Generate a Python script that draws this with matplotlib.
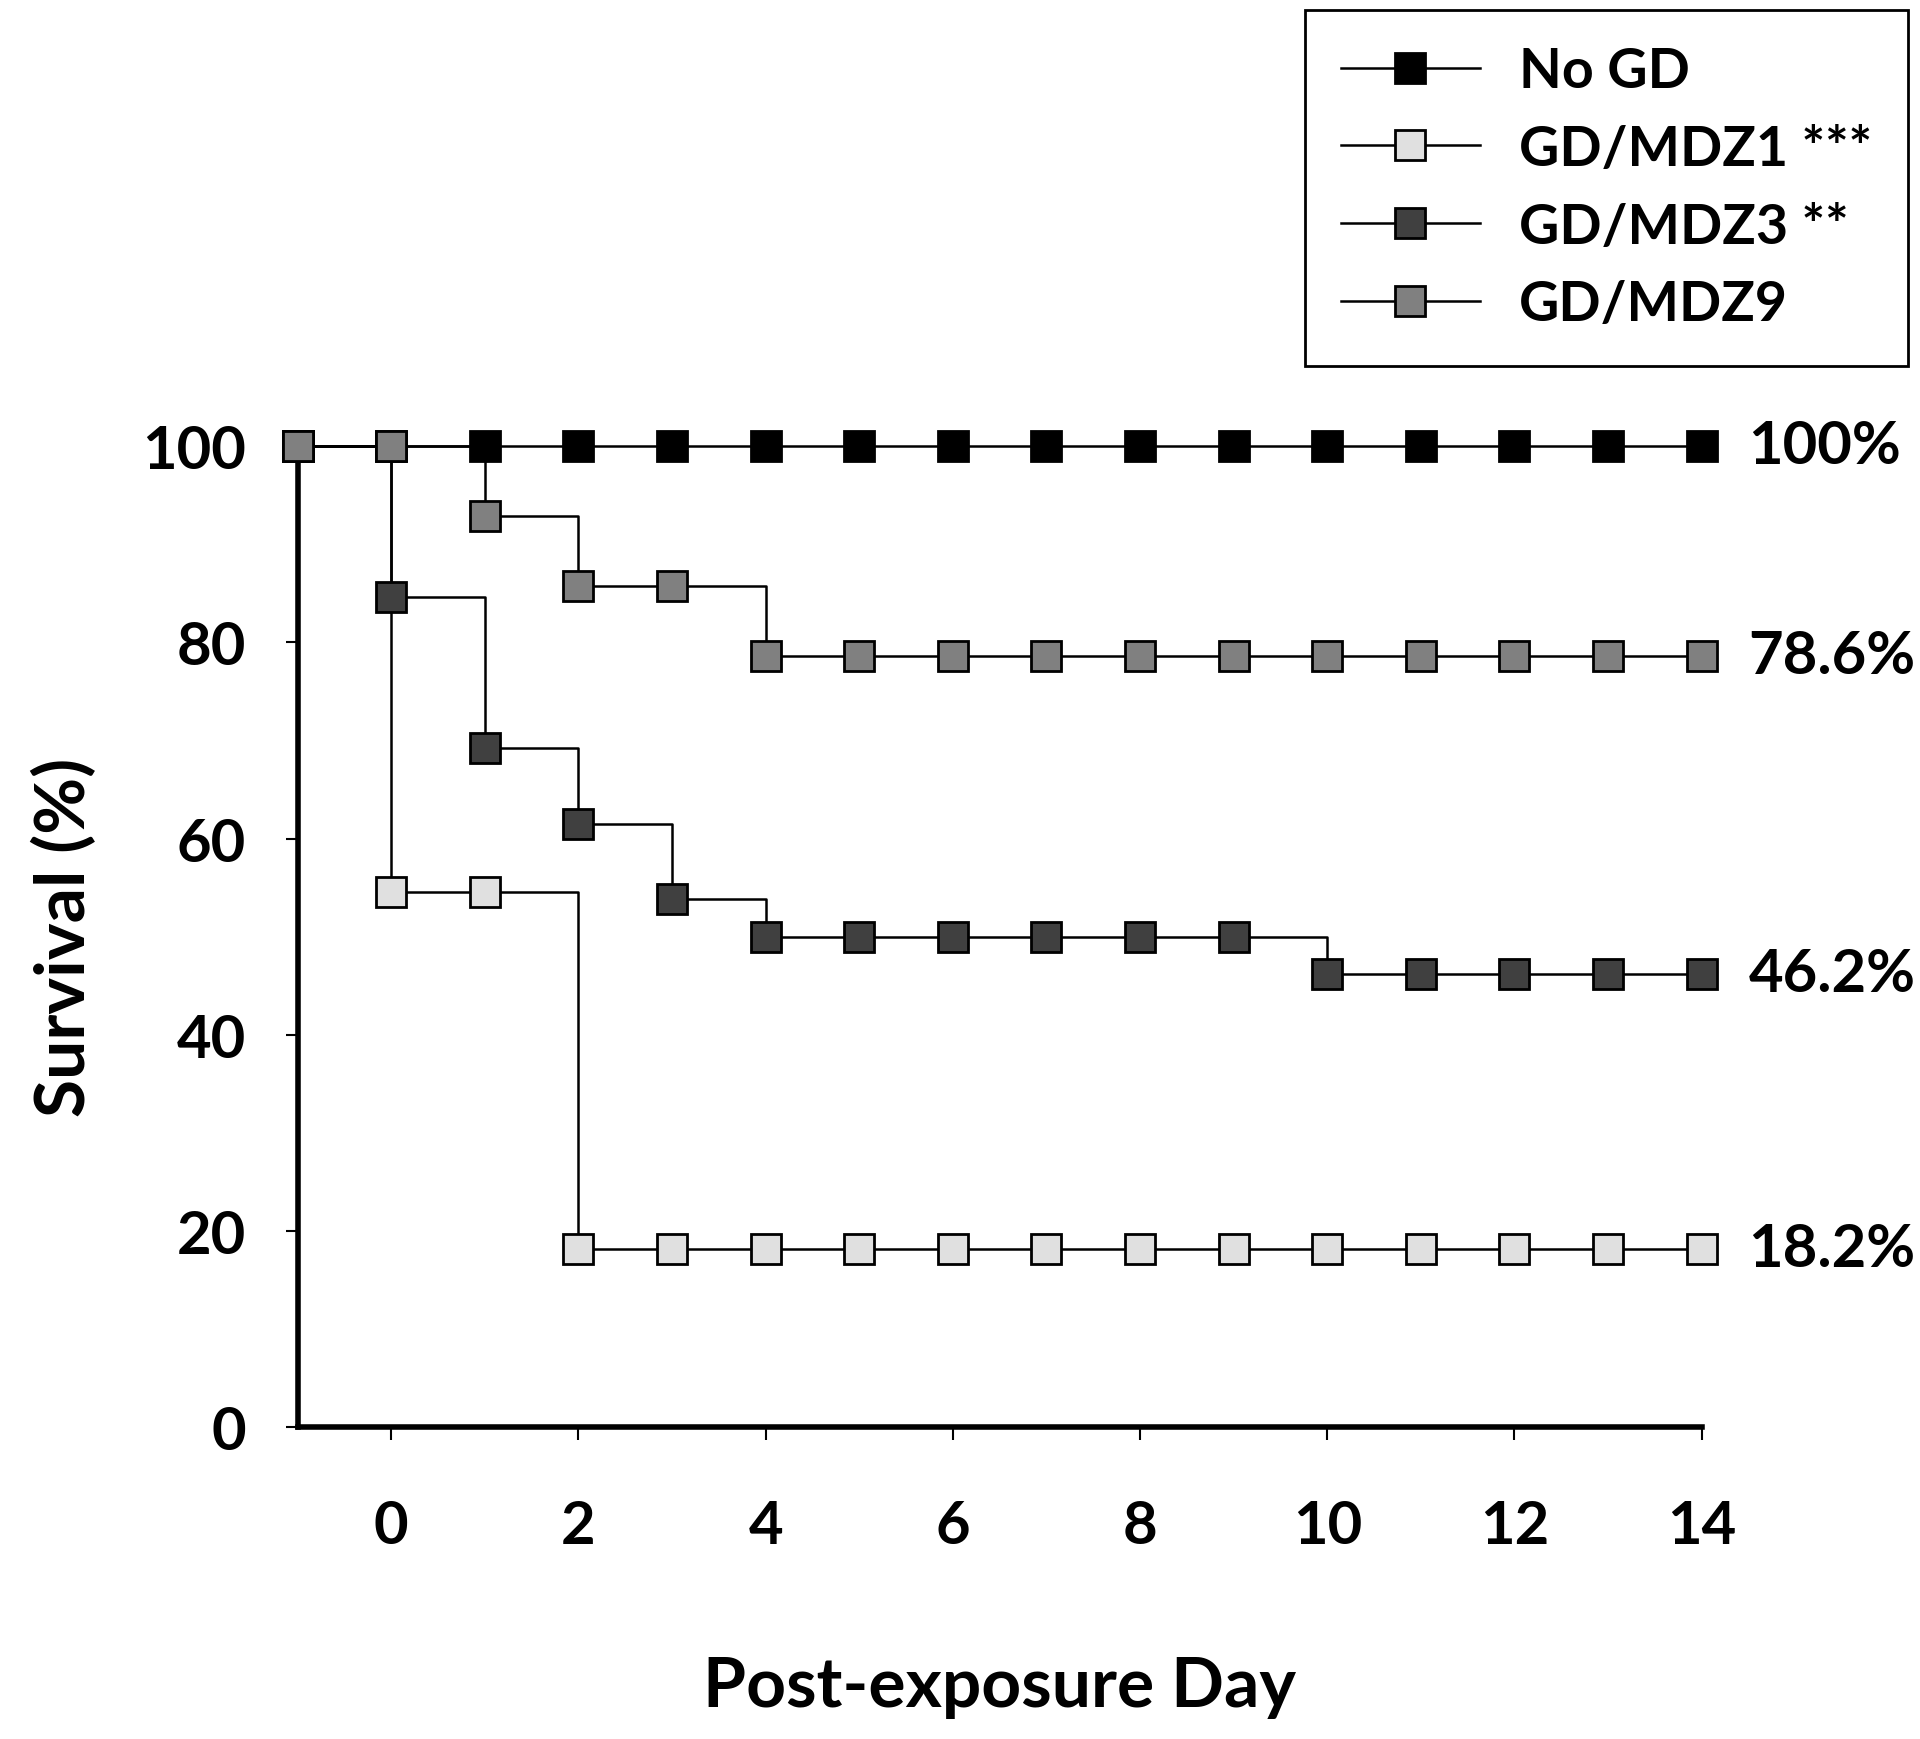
import numpy as np
import matplotlib
matplotlib.use("Agg")
import matplotlib.pyplot as plt

plt.rcParams['font.family'] = ['Lato', 'DejaVu Sans']
plt.rcParams['font.weight'] = 'bold'

days = [-1, 0, 1, 2, 3, 4, 5, 6, 7, 8, 9, 10, 11, 12, 13, 14]

no_gd = [100, 100, 100, 100, 100, 100, 100, 100, 100, 100, 100, 100, 100, 100, 100, 100]
mdz1 = [100, 54.5, 54.5, 18.2, 18.2, 18.2, 18.2, 18.2, 18.2, 18.2, 18.2, 18.2, 18.2, 18.2, 18.2, 18.2]
mdz3 = [100, 84.6, 69.2, 61.5, 53.8, 50.0, 50.0, 50.0, 50.0, 50.0, 50.0, 46.2, 46.2, 46.2, 46.2, 46.2]
mdz9 = [100, 100, 92.9, 85.7, 85.7, 78.6, 78.6, 78.6, 78.6, 78.6, 78.6, 78.6, 78.6, 78.6, 78.6, 78.6]

series_labels = ['No GD', 'GD/MDZ1 ***', 'GD/MDZ3 **', 'GD/MDZ9']
series_colors = ['#000000', '#e0e0e0', '#404040', '#808080']
end_labels = ['100%', '18.2%', '46.2%', '78.6%']

xticks = [0, 2, 4, 6, 8, 10, 12, 14]
yticks = [0, 20, 40, 60, 80, 100]

fig = plt.figure(figsize=(19.2, 17.4), dpi=100)
ax = fig.add_axes([0.155, 0.1793, 0.7313, 0.5637])

for vals, lab, col in zip([no_gd, mdz1, mdz3, mdz9], series_labels, series_colors):
    ax.plot(days, vals, drawstyle='steps-post', color='black', lw=1.8,
            marker='s', ms=21, mfc=col, mec='black', mew=2,
            label=lab, clip_on=False, zorder=3)

for vals, txt in zip([no_gd, mdz1, mdz3, mdz9], end_labels):
    ax.text(14.5, vals[-1], txt, ha='left', va='center', fontsize=43,
            fontweight='bold')

ax.set_xlim(-1, 14)
ax.set_ylim(0, 100)
ax.set_xticks(xticks)
ax.set_yticks(yticks)
ax.tick_params(axis='both', direction='out', length=9, width=1.5,
               labelsize=43, pad=28)
ax.tick_params(axis='x', pad=43)
for s in ['top', 'right']:
    ax.spines[s].set_visible(False)
for s in ['left', 'bottom']:
    ax.spines[s].set_linewidth(4)

ax.set_ylabel('Survival (%)', fontsize=50, fontweight='bold')
ax.yaxis.set_label_coords(-0.143, 0.5)
ax.set_xlabel('Post-exposure Day', fontsize=50, fontweight='bold')
ax.xaxis.set_label_coords(0.5, -0.232)

leg = ax.legend(loc='upper right', bbox_to_anchor=(1908 / 1920, 1 - 11 / 1740),
                bbox_transform=fig.transFigure, borderaxespad=0,
                fontsize=40, handlelength=2.5, handletextpad=0.7,
                labelspacing=0.5, borderpad=0.65, fancybox=False,
                edgecolor='black', framealpha=1)
leg.get_frame().set_linewidth(2)

fig.savefig('out.png', dpi=100)
